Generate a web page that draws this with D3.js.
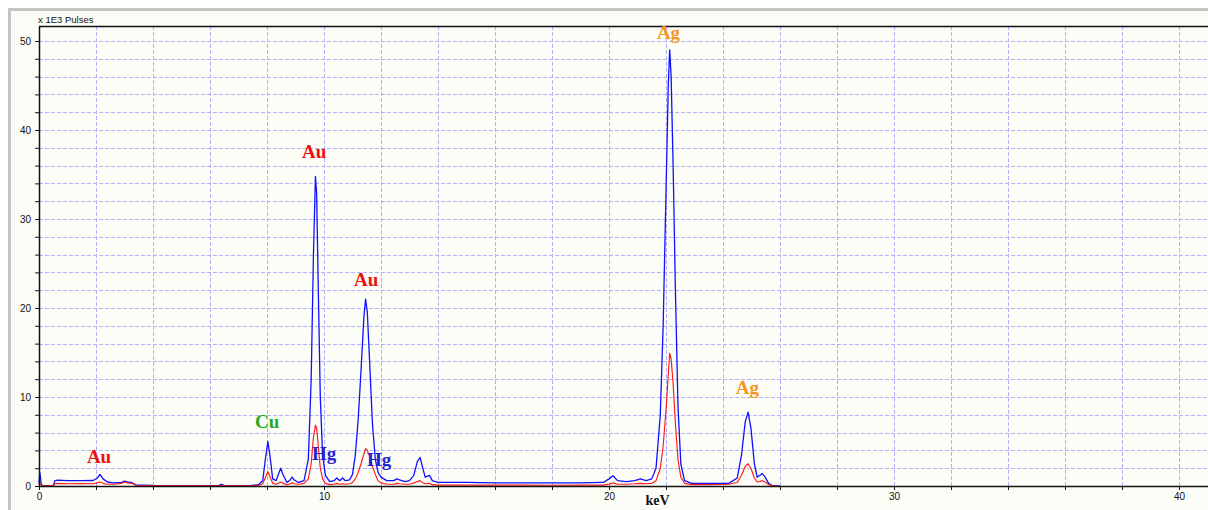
<!DOCTYPE html>
<html>
<head>
<meta charset="utf-8">
<script src="https://cdn.jsdelivr.net/npm/d3@7"></script>
<style>
  html, body { margin: 0; padding: 0; background: #ffffff; overflow: hidden; }
  svg { display: block; }
</style>
</head>
<body>
<svg id="chart" width="1208" height="510"></svg>
<script>
// ---- Data ----
const energyKeV = [
  0.00, 0.03, 0.08, 0.12, 0.50, 0.56, 0.65, 1.00, 1.50, 1.90,
  2.05, 2.14, 2.25, 2.40, 2.60, 2.90, 3.00, 3.10, 3.25, 3.40,
  4.00, 5.00, 6.30, 6.40, 6.50, 7.40, 7.70, 7.85, 7.95, 8.03,
  8.10, 8.20, 8.32, 8.42, 8.48, 8.56, 8.70, 8.82, 8.88, 8.95,
  9.10, 9.30, 9.45, 9.55, 9.63, 9.70, 9.74, 9.80, 9.87, 9.95,
  10.05, 10.20, 10.35, 10.45, 10.55, 10.65, 10.75, 10.90, 11.00, 11.10,
  11.20, 11.30, 11.40, 11.46, 11.52, 11.60, 11.70, 11.80, 11.90, 12.00,
  12.20, 12.45, 12.55, 12.65, 12.85, 13.00, 13.15, 13.28, 13.37, 13.45,
  13.55, 13.70, 13.80, 14.00, 15.00, 16.00, 17.00, 18.00, 19.00, 19.80,
  20.00, 20.14, 20.30, 20.60, 20.90, 21.10, 21.30, 21.50, 21.65, 21.80,
  21.90, 22.00, 22.08, 22.13, 22.18, 22.25, 22.33, 22.42, 22.52, 22.65,
  22.90, 23.50, 24.20, 24.50, 24.65, 24.78, 24.88, 24.98, 25.10, 25.20,
  25.30, 25.38, 25.48, 25.60, 25.75, 26.00
];
const blueCounts = [
  0.3, 1.5, 0.2, 0.02, 0.02, 0.6, 0.65, 0.6, 0.6, 0.62,
  0.9, 1.3, 0.8, 0.45, 0.35, 0.4, 0.55, 0.45, 0.4, 0.12,
  0.06, 0.05, 0.05, 0.2, 0.05, 0.05, 0.15, 0.6, 3.2, 5.0,
  3.5, 0.8, 0.6, 1.5, 2.0, 1.3, 0.4, 0.7, 1.0, 0.7,
  0.4, 0.6, 3.0, 12.0, 26.0, 34.8, 33.0, 22.0, 10.0, 3.5,
  1.2, 0.5, 0.6, 0.9, 0.6, 0.9, 0.6, 0.7, 1.3, 3.5,
  7.5, 13.0, 19.0, 21.0, 19.5, 14.0, 7.0, 3.0, 1.5, 1.0,
  0.6, 0.6, 0.8, 0.7, 0.5, 0.6, 1.2, 2.8, 3.2, 2.2,
  1.0, 1.2, 0.6, 0.4, 0.4, 0.35, 0.35, 0.35, 0.35, 0.4,
  0.8, 1.15, 0.6, 0.5, 0.6, 0.8, 0.6, 0.8, 2.0, 8.0,
  18.0, 33.0, 45.0, 49.0, 46.0, 36.0, 22.0, 9.0, 2.5, 0.6,
  0.3, 0.3, 0.3, 0.9, 3.5, 7.2, 8.3, 6.5, 2.5, 1.0,
  1.2, 1.4, 1.0, 0.3, 0.0, 0.0
];
const redCounts = [
  0.1, 0.3, 0.1, 0.01, 0.01, 0.25, 0.3, 0.25, 0.28, 0.25,
  0.35, 0.45, 0.3, 0.2, 0.2, 0.3, 0.45, 0.35, 0.3, 0.08,
  0.03, 0.03, 0.03, 0.05, 0.03, 0.03, 0.05, 0.25, 1.0, 1.6,
  1.1, 0.3, 0.2, 0.35, 0.45, 0.3, 0.15, 0.25, 0.35, 0.25,
  0.2, 0.3, 0.8, 2.5, 5.5, 6.85, 6.5, 4.5, 2.0, 0.8,
  0.3, 0.15, 0.2, 0.3, 0.2, 0.25, 0.2, 0.25, 0.4, 0.8,
  1.5, 2.5, 3.6, 4.2, 4.0, 3.3, 2.2, 1.3, 0.6, 0.35,
  0.2, 0.2, 0.3, 0.25, 0.2, 0.2, 0.35, 0.5, 0.6, 0.4,
  0.25, 0.3, 0.15, 0.1, 0.1, 0.1, 0.1, 0.08, 0.1, 0.1,
  0.2, 0.35, 0.2, 0.2, 0.25, 0.3, 0.25, 0.3, 0.6, 2.0,
  4.5, 8.5, 12.5, 14.9, 14.3, 11.5, 7.0, 3.0, 1.0, 0.3,
  0.15, 0.15, 0.2, 0.4, 1.2, 2.2, 2.5, 2.0, 0.9, 0.45,
  0.5, 0.6, 0.45, 0.15, 0.0, 0.0
];
const xTickValues = [0, 2, 4, 6, 8, 10, 12, 14, 16, 18, 20, 22, 24, 26, 28, 30, 32, 34, 36, 38, 40];
const xTickLabels = ["0", "10", "20", "30", "40"];
const yTickValues = [0, 2, 4, 6, 8, 10, 12, 14, 16, 18, 20, 22, 24, 26, 28, 30, 32, 34, 36, 38, 40, 42, 44, 46, 48, 50];
const yTickLabels = ["0", "10", "20", "30", "40", "50"];
const annotationText = ["Au", "Cu", "Hg", "Au", "Au", "Hg", "Ag", "Ag"];
const annotationKeV =  [1.68, 7.58, 9.58, 9.23, 11.05, 11.51, 21.68, 24.45];
const annotationValue = [2.6, 6.5, 2.95, 36.8, 22.5, 2.25, 50.2, 10.3];
const annotationElement = ["Au", "Cu", "Hg", "Au", "Au", "Hg", "Ag", "Ag"];
const yAxisTitle = "x 1E3 Pulses";
const xAxisTitle = "keV";

// ---- Layout ----
const W = 1208, H = 510;
const plotLeft = 39, plotRight = 1208, plotTop = 26, plotBottom = 486;
const elementColor = { Au: "#ee1111", Cu: "#22aa22", Hg: "#2424cc", Ag: "#f5961e" };

const svg = d3.select("#chart");

// backgrounds & frame
svg.append("rect").attr("x", 0).attr("y", 0).attr("width", W).attr("height", H).attr("fill", "#ffffff");
svg.append("rect").attr("x", 10).attr("y", 10).attr("width", W - 10).attr("height", H - 10).attr("fill", "#fdfdf8");
svg.append("line").attr("x1", 8).attr("x2", W).attr("y1", 9.5).attr("y2", 9.5).attr("stroke", "#c4c4c4").attr("stroke-width", 3);
svg.append("line").attr("x1", 9.5).attr("x2", 9.5).attr("y1", 8).attr("y2", H).attr("stroke", "#c4c4c4").attr("stroke-width", 3);

const x = d3.scaleLinear().domain([0, (plotRight - plotLeft) / 28.5]).range([plotLeft, plotRight]);
const y = d3.scaleLinear().domain([0, (plotBottom - plotTop) / 8.9]).range([plotBottom, plotTop]);

// grid
const grid = svg.append("g").attr("stroke", "#b0b0fc").attr("stroke-width", 1).attr("stroke-dasharray", "4,2");
grid.selectAll("line.h").data(yTickValues.filter(v => v > 0)).join("line")
  .attr("class", "h")
  .attr("x1", plotLeft).attr("x2", plotRight)
  .attr("y1", d => Math.round(y(d)) + 0.5).attr("y2", d => Math.round(y(d)) + 0.5);
grid.selectAll("line.v").data(xTickValues.filter(v => v > 0)).join("line")
  .attr("class", "v")
  .attr("y1", plotTop).attr("y2", plotBottom)
  .attr("x1", d => Math.round(x(d)) + 0.5).attr("x2", d => Math.round(x(d)) + 0.5);

// top border line
svg.append("line").attr("x1", plotLeft).attr("x2", plotRight).attr("y1", plotTop + 0.5).attr("y2", plotTop + 0.5)
  .attr("stroke", "#111").attr("stroke-width", 1.5);

// spectra
const pts = (vals) => energyKeV.map((e, i) => [e, vals[i]]);
const line = d3.line().x(d => x(d[0])).y(d => y(d[1])).curve(d3.curveLinear);
svg.append("path").datum(pts(blueCounts)).attr("d", line)
  .attr("fill", "none").attr("stroke", "#1010ff").attr("stroke-width", 1.3).attr("stroke-linejoin", "round");
svg.append("path").datum(pts(redCounts)).attr("d", line)
  .attr("fill", "none").attr("stroke", "#ff1a1a").attr("stroke-width", 1.15).attr("stroke-linejoin", "round");

// axes
const xAxis = d3.axisBottom(x).tickValues(xTickValues).tickSize(4).tickSizeOuter(0).tickPadding(3)
  .tickFormat(d => xTickLabels.includes(String(d)) ? String(d) : "");
const gx = svg.append("g").attr("transform", `translate(0,${plotBottom})`).call(xAxis);
gx.select(".domain").attr("stroke", "#111").attr("stroke-width", 1.5);
gx.selectAll(".tick line").attr("stroke", "#111");
gx.selectAll(".tick text").attr("font-family", "Liberation Sans, Arial, sans-serif").attr("font-size", 10).attr("fill", "#111");

const yAxis = d3.axisLeft(y).tickValues(yTickValues).tickSize(4).tickSizeOuter(0).tickPadding(4)
  .tickFormat(d => yTickLabels.includes(String(d)) ? String(d) : "");
const gy = svg.append("g").attr("transform", `translate(${plotLeft},0)`).call(yAxis);
gy.select(".domain").attr("stroke", "#111").attr("stroke-width", 1.5);
gy.selectAll(".tick line").attr("stroke", "#111");
gy.selectAll(".tick text").attr("font-family", "Liberation Sans, Arial, sans-serif").attr("font-size", 10).attr("fill", "#111");

// titles
svg.append("text").attr("x", 38).attr("y", 23).text(yAxisTitle)
  .attr("font-family", "Liberation Sans, Arial, sans-serif").attr("font-size", 9.5).attr("fill", "#111");
svg.append("text").attr("x", x(21.7)).attr("y", 505).attr("text-anchor", "middle").text(xAxisTitle)
  .attr("font-family", "Liberation Serif, Times New Roman, serif").attr("font-weight", "bold").attr("font-size", 14).attr("fill", "#111");

// element annotations
svg.append("g").selectAll("text").data(annotationText).join("text")
  .attr("x", (d, i) => x(annotationKeV[i]))
  .attr("y", (d, i) => y(annotationValue[i]))
  .text(d => d)
  .attr("font-family", "Liberation Serif, Times New Roman, serif")
  .attr("font-weight", "bold").attr("font-size", 19)
  .attr("fill", (d, i) => elementColor[annotationElement[i]]);
</script>
</body>
</html>
